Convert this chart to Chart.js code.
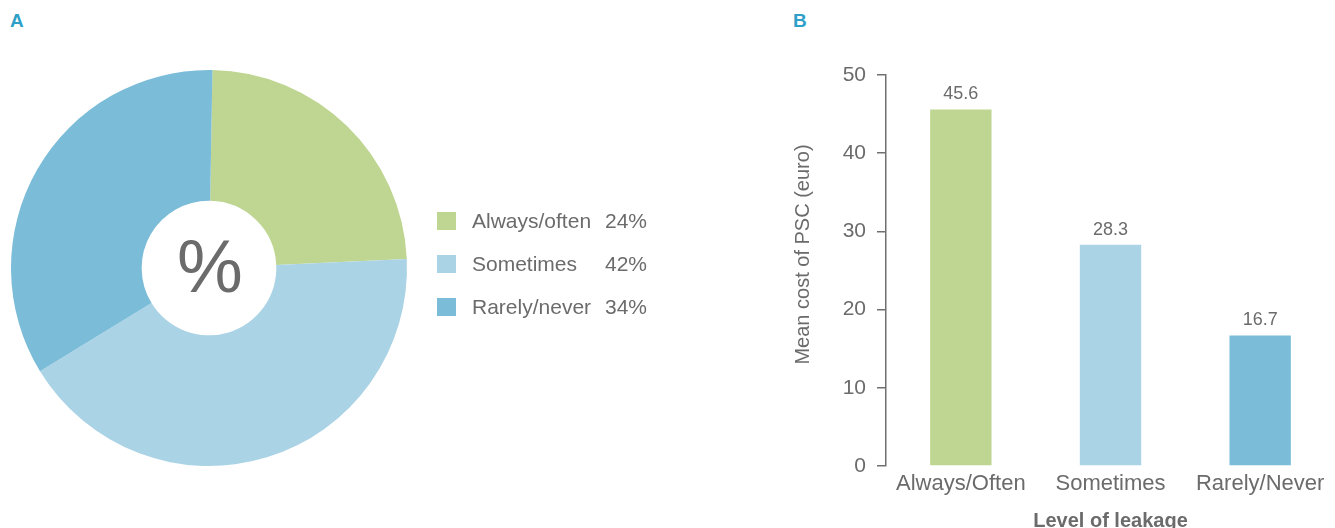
<!DOCTYPE html>
<html>
<head>
<meta charset="utf-8">
<script src="https://cdn.jsdelivr.net/npm/chart.js@4"></script>
<style>
  html, body { margin: 0; padding: 0; background: #ffffff; }
  body { width: 1335px; height: 528px; position: relative; overflow: hidden; font-family: "Liberation Sans", Arial, sans-serif; }
  .panel-letter { position: absolute; color: #2f9fc8; font-weight: bold; font-size: 19px; line-height: 19px; }
  #wrapA { position: absolute; left: 0; top: 0; width: 780px; height: 528px; }
  #wrapB { position: absolute; left: 780px; top: 0; width: 555px; height: 528px; }
</style>
</head>
<body>
<div class="panel-letter" style="left:10px; top:11px;">A</div>
<div class="panel-letter" style="left:793px; top:11px;">B</div>
<div id="wrapA"><canvas id="pie" width="780" height="528"></canvas></div>
<div id="wrapB"><canvas id="bar" width="555" height="528"></canvas></div>
<script>
// Panel A: how often leakage happens (share of respondents, %)
const leakageLabels = ['Always/often', 'Sometimes', 'Rarely/never'];
const leakageShares = [24, 42, 34];

// Panel B: mean cost of PSC per level of leakage (euro)
const costCategories = ['Always/Often', 'Sometimes', 'Rarely/Never'];
const meanCost = [45.6, 28.3, 16.7];
const costTicks = [0, 10, 20, 30, 40, 50];

const sliceColors = ['#bed691', '#abd3e6', '#7bbcd8'];
const textGray = '#6b6b6b';
const fontFamily = '"Liberation Sans", Arial, sans-serif';

Chart.defaults.animation = false;
Chart.defaults.font.family = fontFamily;
Chart.defaults.color = textGray;

// Centre "%" sign and a two-column legend (label + share)
const pieDecor = {
  id: 'pieDecor',
  afterDraw(chart) {
    const ctx = chart.ctx;
    const arc = chart.getDatasetMeta(0).data[0];
    ctx.save();
    ctx.fillStyle = textGray;
    ctx.font = '74px ' + fontFamily;
    ctx.textAlign = 'center';
    ctx.textBaseline = 'middle';
    ctx.fillText('%', arc.x + 1, arc.y + 4);

    const rowY = [221, 264, 307];
    ctx.font = '21px ' + fontFamily;
    ctx.textAlign = 'left';
    leakageLabels.forEach((lab, i) => {
      ctx.fillStyle = sliceColors[i];
      ctx.fillRect(437, rowY[i] - 9, 19, 18);
      ctx.fillStyle = textGray;
      ctx.fillText(lab, 472, rowY[i] + 1);
      ctx.fillText(leakageShares[i] + '%', 605, rowY[i] + 1);
    });
    ctx.restore();
  }
};

new Chart(document.getElementById('pie'), {
  type: 'doughnut',
  data: {
    labels: leakageLabels,
    datasets: [{
      data: leakageShares,
      backgroundColor: sliceColors,
      borderWidth: 0
    }]
  },
  options: {
    responsive: false,
    cutout: '34%',
    rotation: 1,
    layout: { padding: { top: 70, bottom: 62, left: 10, right: 372 } },
    plugins: { legend: { display: false }, tooltip: { enabled: false } }
  },
  plugins: [pieDecor]
});

// Value labels above bars and the rotated y-axis title
const barDecor = {
  id: 'barDecor',
  afterDatasetsDraw(chart) {
    const ctx = chart.ctx;
    const meta = chart.getDatasetMeta(0);
    ctx.save();
    ctx.fillStyle = textGray;
    ctx.font = '18px ' + fontFamily;
    ctx.textAlign = 'center';
    ctx.textBaseline = 'alphabetic';
    meta.data.forEach((bar, i) => {
      ctx.fillText(meanCost[i].toFixed(1), bar.x, bar.y - 10);
    });
    const area = chart.chartArea;
    ctx.translate(23, (area.top + area.bottom) / 2 - 16);
    ctx.rotate(-Math.PI / 2);
    ctx.font = '20px ' + fontFamily;
    ctx.textBaseline = 'middle';
    ctx.fillText('Mean cost of PSC (euro)', 0, 0);
    ctx.restore();
  }
};

new Chart(document.getElementById('bar'), {
  type: 'bar',
  data: {
    labels: costCategories,
    datasets: [{
      data: meanCost,
      backgroundColor: sliceColors,
      categoryPercentage: 1,
      barPercentage: 0.41
    }]
  },
  options: {
    responsive: false,
    layout: { padding: { top: 75, left: 0, right: 0, bottom: 0 } },
    plugins: { legend: { display: false }, tooltip: { enabled: false } },
    scales: {
      x: {
        grid: { display: false, drawTicks: false },
        border: { display: false },
        ticks: { font: { size: 22 }, color: textGray, padding: 5, maxRotation: 0 },
        title: {
          display: true,
          text: 'Level of leakage',
          color: textGray,
          font: { size: 20, weight: 'bold', lineHeight: 0.7 },
          padding: { top: 0, bottom: 0 }
        },
        afterFit(scale) { scale.height = 62; }
      },
      y: {
        min: 0,
        max: 50,
        afterBuildTicks(scale) { scale.ticks = costTicks.map(v => ({ value: v })); },
        grid: { drawOnChartArea: false, drawTicks: true, tickLength: 9, color: '#707070', lineWidth: 1.5 },
        border: { display: true, color: '#707070', width: 1.5 },
        ticks: { font: { size: 21 }, color: textGray, padding: 11 },
        afterFit(scale) { scale.width = 106; }
      }
    }
  },
  plugins: [barDecor]
});
</script>
</body>
</html>
